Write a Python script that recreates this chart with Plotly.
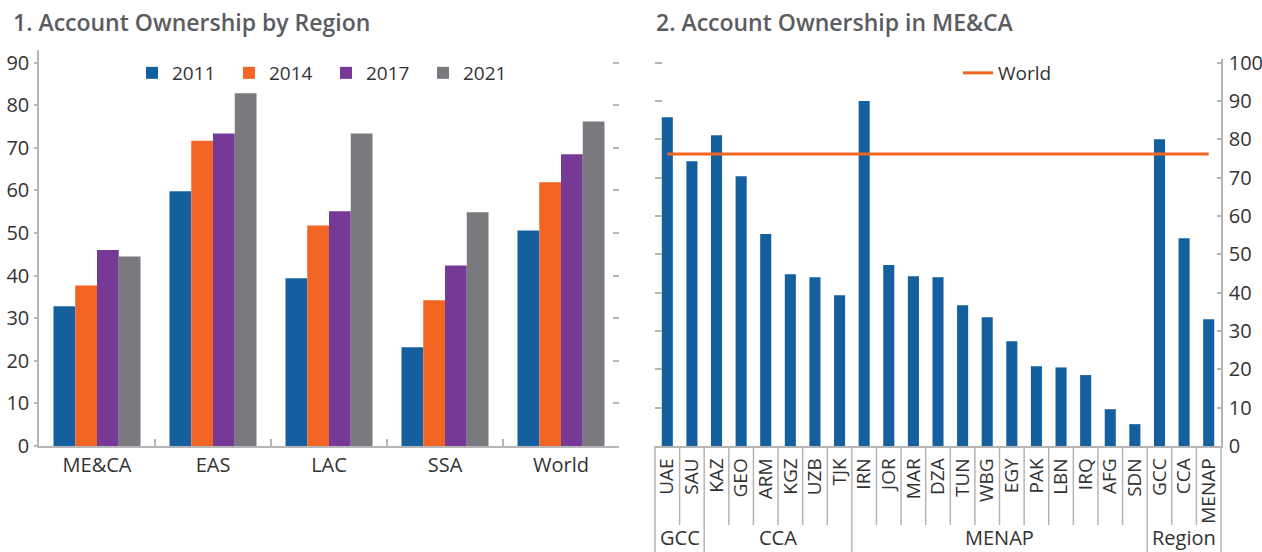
import plotly.graph_objects as go

# ---------------- data ----------------
regions = ["ME&CA", "EAS", "LAC", "SSA", "World"]
years = ["2011", "2014", "2017", "2021"]
own_2011 = [32.8, 59.8, 39.4, 23.2, 50.6]
own_2014 = [37.7, 71.7, 51.8, 34.2, 61.9]
own_2017 = [46.0, 73.4, 55.1, 42.4, 68.5]
own_2021 = [44.5, 82.8, 73.4, 54.9, 76.2]

countries = ["UAE", "SAU", "KAZ", "GEO", "ARM", "KGZ", "UZB", "TJK", "IRN", "JOR",
             "MAR", "DZA", "TUN", "WBG", "EGY", "PAK", "LBN", "IRQ", "AFG", "SDN",
             "GCC", "CCA", "MENAP"]
country_values = [85.8, 74.3, 81.1, 70.4, 55.3, 44.8, 44.0, 39.3, 90.0, 47.2,
                  44.3, 44.0, 36.7, 33.6, 27.3, 20.8, 20.5, 18.5, 9.6, 5.7,
                  80.0, 54.2, 33.1]
world_value = 76.2
group_names = ["GCC", "CCA", "MENAP", "Region"]
group_sizes = [2, 6, 12, 3]

# ---------------- style ----------------
W, H = 1262, 552
FONT = "Open Sans"
TXT = "#333333"
TITLE_C = "#5b5c5f"
AX = "#b5b5b5"
colors = ["#14609e", "#f26522", "#763a96", "#797a7e"]


def px_x(p):
    return p / W


def px_y(p):
    return 1 - p / H


fig = go.Figure()

series = [own_2011, own_2014, own_2017, own_2021]
for name, vals, col in zip(years, series, colors):
    fig.add_trace(go.Bar(x=regions, y=vals, name=name, marker_color=col,
                         marker_line_width=0, xaxis="x", yaxis="y", legend="legend"))

fig.add_trace(go.Bar(x=countries, y=country_values, name="Country", marker_color=colors[0],
                     marker_line_width=0, width=0.45, xaxis="x2", yaxis="y2", showlegend=False))
fig.add_trace(go.Scatter(x=countries, y=[world_value] * len(countries), name="World",
                         mode="lines", line=dict(color="#f26522", width=3),
                         xaxis="x2", yaxis="y2", legend="legend2"))

# empty helper traces so the mirrored tick-only axes get drawn
fig.add_trace(go.Scatter(x=[regions[0]], y=[None], mode="lines", xaxis="x", yaxis="y3",
                         showlegend=False, hoverinfo="skip"))
fig.add_trace(go.Scatter(x=[countries[0]], y=[None], mode="lines", xaxis="x2", yaxis="y4",
                         showlegend=False, hoverinfo="skip"))

y_bottom = px_y(446)
left_top = px_y(50)
right_top = px_y(59)
left_range = [0, 396 / 4.259]
right_range = [0, 387 / 3.833]

tickfont = dict(family=FONT, size=20, color=TXT)

fig.update_layout(
    template="none",
    width=W, height=H,
    margin=dict(l=0, r=0, t=0, b=0, autoexpand=False),
    paper_bgcolor="white", plot_bgcolor="white",
    barmode="group", bargap=0.25, bargroupgap=0,
    font=dict(family=FONT, color=TXT),
    xaxis=dict(domain=[px_x(39), px_x(619)], type="category", anchor="y",
               range=[-0.5, len(regions) - 0.5],
               showline=True, linecolor=AX, linewidth=1.5, ticks="inside",
               tickson="boundaries", ticklen=7, tickcolor=AX, tickwidth=1.5,
               showgrid=False, tickfont=tickfont, automargin=False),
    yaxis=dict(domain=[y_bottom, left_top], range=left_range, anchor="x",
               dtick=10, tick0=0, showline=True, linecolor=AX, linewidth=1.5,
               ticks="outside", ticklen=3, tickcolor=AX, tickwidth=1.5,
               showgrid=False, zeroline=False, tickfont=tickfont, ticklabelstandoff=1,
               automargin=False),
    yaxis3=dict(overlaying="y", side="right", anchor="x", range=left_range, dtick=10,
                tick0=0, showline=False, ticks="inside", ticklen=6, tickcolor=AX,
                tickwidth=1.5, showticklabels=False, showgrid=False, zeroline=False,
                automargin=False),
    xaxis2=dict(domain=[px_x(655), px_x(1221)], type="category", anchor="y2",
                range=[-0.5, len(countries) - 0.5],
                showline=True, linecolor=AX, linewidth=1.5, ticks="",
                tickangle=-90, showgrid=False,
                tickfont=dict(family=FONT, size=19, color=TXT),
                ticklabelstandoff=3, automargin=False),
    yaxis2=dict(domain=[y_bottom, right_top], range=right_range, anchor="x2",
                side="right", dtick=10, tick0=0, showline=True, linecolor=AX,
                linewidth=1.5, ticks="inside", ticklen=4, tickcolor=AX, tickwidth=1.5,
                showgrid=False, zeroline=False, tickfont=tickfont, ticklabelstandoff=2,
                automargin=False),
    yaxis4=dict(overlaying="y2", side="left", anchor="x2", range=right_range, dtick=10,
                tick0=0, showline=False, ticks="inside", ticklen=7, tickcolor=AX,
                tickwidth=1.5, showticklabels=False, showgrid=False, zeroline=False,
                automargin=False),
    legend=dict(orientation="h", x=px_x(132), y=px_y(73), xanchor="left", yanchor="middle",
                font=dict(family=FONT, size=19, color=TXT), entrywidth=52,
                bgcolor="rgba(0,0,0,0)", traceorder="normal"),
    legend2=dict(orientation="h", x=px_x(958), y=px_y(73), xanchor="left", yanchor="middle",
                 font=dict(family=FONT, size=19, color=TXT), bgcolor="rgba(0,0,0,0)"),
)

# titles
title_font = dict(family=FONT, size=23, color=TITLE_C, weight=600)
fig.add_annotation(text="1. Account Ownership by Region", x=px_x(11), y=px_y(22),
                   xref="paper", yref="paper", xanchor="left", yanchor="middle",
                   showarrow=False, font=title_font)
fig.add_annotation(text="2. Account Ownership in ME&CA", x=px_x(654), y=px_y(22),
                   xref="paper", yref="paper", xanchor="left", yanchor="middle",
                   showarrow=False, font=title_font)

# separators and group labels on the right panel
n = len(countries)
group_bounds = [0]
for s in group_sizes:
    group_bounds.append(group_bounds[-1] + s)

for k in range(n + 1):
    long_line = k in group_bounds
    fig.add_shape(type="line", xref="x2 domain", yref="paper",
                  x0=k / n, x1=k / n, y0=y_bottom, y1=(0 if long_line else px_y(525)),
                  line=dict(color=AX, width=1.5))

for g, (a, b) in zip(group_names, zip(group_bounds[:-1], group_bounds[1:])):
    fig.add_annotation(text=g, xref="x2 domain", yref="paper", x=(a + b) / 2 / n,
                       y=0, xanchor="center", yanchor="bottom", showarrow=False,
                       borderpad=0, font=dict(family=FONT, size=20, color=TXT))

fig.write_html("out.html", config={"displayModeBar": False},
               post_script="document.body.style.margin='0';")
